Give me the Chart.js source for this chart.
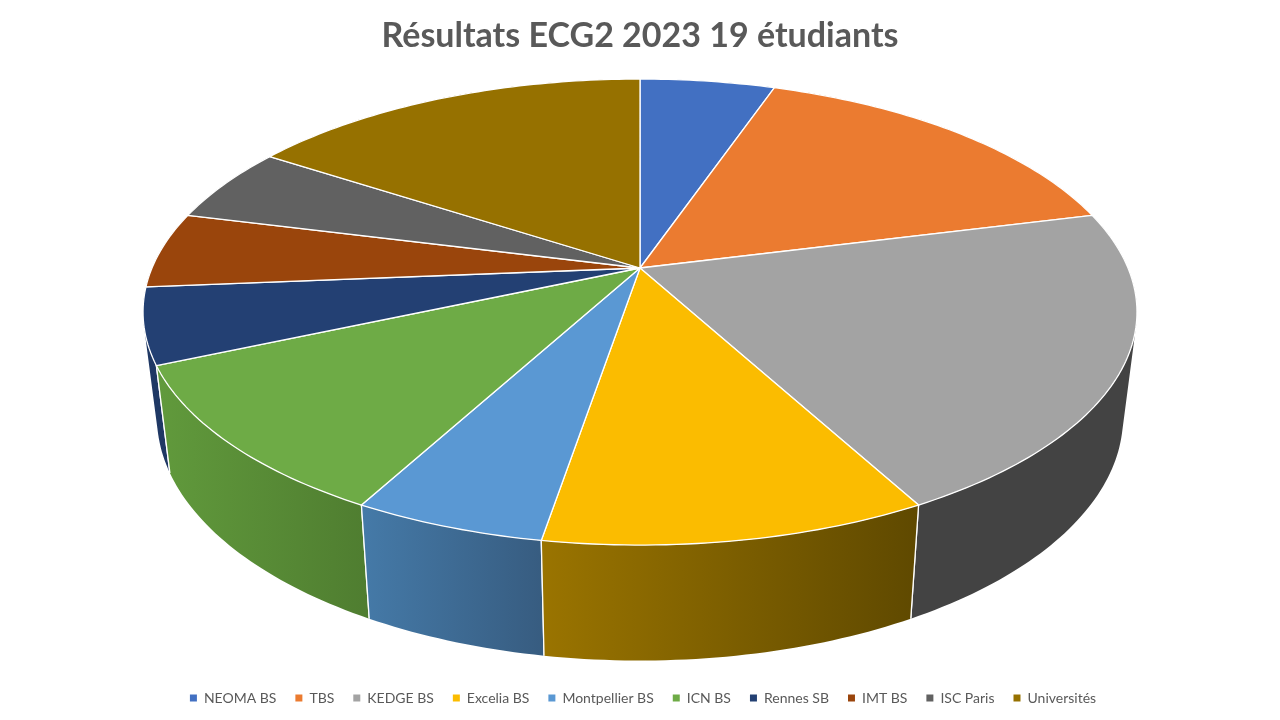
<!DOCTYPE html>
<html>
<head>
<meta charset="utf-8">
<title>Résultats ECG2 2023</title>
<script src="https://cdn.jsdelivr.net/npm/chart.js@4"></script>
<style>
  html, body { margin: 0; background: #fff; }
  canvas { display: block; }
</style>
</head>
<body>
<canvas id="chart" width="1280" height="720"></canvas>
<script>
const categories = ['NEOMA BS', 'TBS', 'KEDGE BS', 'Excelia BS', 'Montpellier BS', 'ICN BS', 'Rennes SB', 'IMT BS', 'ISC Paris', 'Universités'];
const students = [1, 3, 4, 2, 1, 2, 1, 1, 1, 3];
const topColors = ['#4270C2', '#EB7B30', '#A3A3A3', '#FBBC00', '#5A98D3', '#6EAB46', '#234073', '#9A450C', '#616161', '#967100'];
// wall shading, left colour then right colour
const wallColors = [
  ['#2f5390', '#2f5390'], ['#8f4c1e', '#8f4c1e'], ['#434343', '#434343'], ['#9a7400', '#5f4900'],
  ['#457aa8', '#375c80'], ['#619a3c', '#4f7d30'], ['#1f3864', '#1f3864'], ['#6b310a', '#6b310a'],
  ['#3c3c3c', '#3c3c3c'], ['#5c4500', '#5c4500']
];

// the pie is seen in perspective: hub is not the centre of the ellipse
const view = { hubX: 640, hubY: 268, a: 488, b: 224.7, p: 0.189, wallX: 0.972, wallY: 1.045, wallDrop: 103 };

function project(angle, bottom) {
  const t = angle + Math.PI / 2;
  const u = Math.sin(t), v = -Math.cos(t);
  const w = 1 - view.p * v;
  let x = view.a * u / w, y = view.b * v / w;
  if (bottom) {
    x *= view.wallX;
    y = y * view.wallY + view.wallDrop;
  }
  return { x: view.hubX + x, y: view.hubY + y };
}

function rimPoints(start, end, bottom) {
  const steps = Math.max(2, Math.ceil((end - start) / (Math.PI / 180)));
  const pts = [];
  for (let i = 0; i <= steps; i++) {
    pts.push(project(start + (end - start) * i / steps, bottom));
  }
  return pts;
}

function addPolygon(ctx, pts) {
  pts.forEach((pt, i) => i ? ctx.lineTo(pt.x, pt.y) : ctx.moveTo(pt.x, pt.y));
  ctx.closePath();
}

function signedArea(pts) {
  return pts.reduce((sum, pt, i) => {
    const next = pts[(i + 1) % pts.length];
    return sum + pt.x * next.y - next.x * pt.y;
  }, 0);
}

const tiltedPie = {
  id: 'tiltedPie',
  afterLayout(chart) {
    // legend sits a little right of centre in the original
    chart.legend.left += 3;
    chart.legend.right += 3;
  },
  beforeDatasetsDraw(chart) {
    const ctx = chart.ctx;
    const arcs = chart.getDatasetMeta(0).data.map((arc, i) => ({ i, start: arc.startAngle, end: arc.endAngle }));
    ctx.save();
    ctx.lineJoin = 'round';
    ctx.strokeStyle = '#fff';
    ctx.lineWidth = 1.3;

    // walls, back to front. Every step is its own quad wound the same way,
    // so the filled union also covers the silhouette where the rims cross
    const depth = a => Math.sin((a.start + a.end) / 2);
    [...arcs].sort((p, q) => depth(p) - depth(q)).forEach(a => {
      const top = rimPoints(a.start, a.end, false);
      const bottom = rimPoints(a.start, a.end, true);
      const xs = top.concat(bottom).map(pt => pt.x);
      const grad = ctx.createLinearGradient(Math.min(...xs), 0, Math.max(...xs), 0);
      grad.addColorStop(0, wallColors[a.i][0]);
      grad.addColorStop(1, wallColors[a.i][1]);
      ctx.beginPath();
      for (let k = 0; k < top.length - 1; k++) {
        const quad = [top[k], top[k + 1], bottom[k + 1], bottom[k]];
        addPolygon(ctx, signedArea(quad) < 0 ? quad.reverse() : quad);
      }
      ctx.fillStyle = grad;
      ctx.fill();
      // white seams between neighbouring walls
      ctx.beginPath();
      ctx.moveTo(top[0].x, top[0].y);
      ctx.lineTo(bottom[0].x, bottom[0].y);
      ctx.moveTo(top[top.length - 1].x, top[top.length - 1].y);
      ctx.lineTo(bottom[bottom.length - 1].x, bottom[bottom.length - 1].y);
      ctx.stroke();
    });

    // top face
    arcs.forEach(a => {
      ctx.beginPath();
      addPolygon(ctx, [{ x: view.hubX, y: view.hubY }].concat(rimPoints(a.start, a.end, false)));
      ctx.fillStyle = topColors[a.i];
      ctx.fill();
      ctx.stroke();
    });
    ctx.restore();
    return false; // flat arcs are replaced by the tilted ones
  }
};

new Chart(document.getElementById('chart'), {
  type: 'pie',
  data: {
    labels: categories,
    datasets: [{ data: students, backgroundColor: topColors, borderWidth: 0 }]
  },
  options: {
    responsive: false,
    animation: false,
    layout: { padding: { bottom: 5 } },
    plugins: {
      title: {
        display: true,
        text: 'Résultats ECG2 2023 19 étudiants',
        color: '#595959',
        font: { family: 'Lato', size: 34, weight: 'bold' },
        padding: { top: 16, bottom: 10 }
      },
      legend: {
        position: 'bottom',
        labels: {
          color: '#595959',
          font: { family: 'Lato', size: 14 },
          boxWidth: 7,
          boxHeight: 7,
          padding: 19
        }
      },
      tooltip: { enabled: false }
    }
  },
  plugins: [tiltedPie]
});
</script>
</body>
</html>
